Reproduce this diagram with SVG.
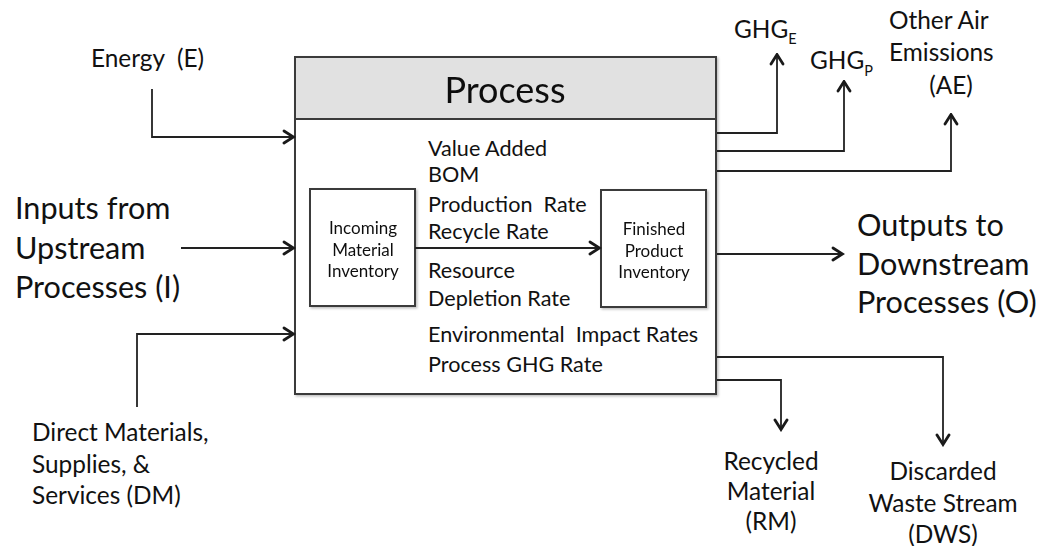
<svg xmlns="http://www.w3.org/2000/svg" width="1041" height="546" viewBox="0 0 1041 546">
  <defs>
    <style>
      text { font-family: Lato, "Open Sans", "Liberation Sans", sans-serif; fill: #111; white-space: pre; }
      .box { fill: #fff; stroke: #3a3a3a; stroke-width: 2; }
      .head { fill: #e1e1e1; stroke: #3a3a3a; stroke-width: 2; }
      .wire { fill: none; stroke: #222; stroke-width: 1.8; }
      .title { font-size: 36px; }
      .mid { font-size: 21.6px; }
      .inv { font-size: 17px; }
      .big { font-size: 30.6px; }
      .lab { font-size: 24.4px; }
      .sub { font-size: 14.5px; }
    </style>
    <marker id="arr" viewBox="0 0 14 16" refX="12.5" refY="8" markerWidth="14" markerHeight="16" markerUnits="userSpaceOnUse" orient="auto">
      <path d="M2.5,2 L12,8 L2.5,14" fill="none" stroke="#1a1a1a" stroke-width="2.8" stroke-linecap="round" stroke-linejoin="miter"/>
    </marker>
    <filter id="shadow" x="-5%" y="-5%" width="110%" height="110%">
      <feDropShadow dx="1.5" dy="1.5" stdDeviation="1" flood-color="#000" flood-opacity="0.25"/>
    </filter>
  </defs>

  <rect width="1041" height="546" fill="#fff"/>

  <!-- main process block -->
  <g id="process" filter="url(#shadow)">
    <rect class="box" x="295" y="57" width="421" height="337"/>
    <rect class="head" x="295" y="57" width="421" height="62"/>
    <text class="title" x="505" y="103" text-anchor="middle">Process</text>
  </g>

  <g id="process-metrics">
    <text class="mid" x="428" y="156">Value Added</text>
    <text class="mid" x="428" y="182">BOM</text>
    <text class="mid" x="428" y="212">Production  Rate</text>
    <text class="mid" x="428" y="239">Recycle Rate</text>
    <text class="mid" x="428" y="278">Resource</text>
    <text class="mid" x="428" y="306">Depletion Rate</text>
    <text class="mid" x="428" y="342">Environmental  Impact Rates</text>
    <text class="mid" x="428" y="372">Process GHG Rate</text>
  </g>

  <g id="incoming-inventory" filter="url(#shadow)">
    <rect class="box" x="310" y="189" width="105" height="117" stroke-width="1.6"/>
    <text class="inv" x="363" y="234" text-anchor="middle">Incoming</text>
    <text class="inv" x="363" y="256" text-anchor="middle">Material</text>
    <text class="inv" x="363" y="277" text-anchor="middle">Inventory</text>
  </g>

  <g id="finished-inventory" filter="url(#shadow)">
    <rect class="box" x="601" y="190" width="105" height="117" stroke-width="1.6"/>
    <text class="inv" x="654" y="235" text-anchor="middle">Finished</text>
    <text class="inv" x="654" y="257" text-anchor="middle">Product</text>
    <text class="inv" x="654" y="278" text-anchor="middle">Inventory</text>
  </g>

  <!-- flow labels -->
  <g id="energy">
    <text class="lab" x="91" y="67">Energy  (E)</text>
  </g>
  <g id="inputs">
    <text class="big" x="15" y="219">Inputs from</text>
    <text class="big" x="15" y="259">Upstream</text>
    <text class="big" x="15" y="298">Processes (I)</text>
  </g>
  <g id="direct-materials">
    <text class="lab" x="32" y="441">Direct Materials,</text>
    <text class="lab" x="32" y="473">Supplies, &amp;</text>
    <text class="lab" x="32" y="504">Services (DM)</text>
  </g>
  <g id="ghg-e">
    <text class="lab" x="734" y="38">GHG<tspan class="sub" dy="6">E</tspan></text>
  </g>
  <g id="ghg-p">
    <text class="lab" x="810" y="69">GHG<tspan class="sub" dy="7">P</tspan></text>
  </g>
  <g id="air-emissions">
    <text class="lab" x="889" y="29">Other Air</text>
    <text class="lab" x="889" y="61">Emissions</text>
    <text class="lab" x="951" y="94" text-anchor="middle">(AE)</text>
  </g>
  <g id="outputs">
    <text class="big" x="857" y="236">Outputs to</text>
    <text class="big" x="857" y="275">Downstream</text>
    <text class="big" x="857" y="313">Processes (O)</text>
  </g>
  <g id="recycled-material">
    <text class="lab" x="771" y="470" text-anchor="middle">Recycled</text>
    <text class="lab" x="771" y="500" text-anchor="middle">Material</text>
    <text class="lab" x="771" y="530" text-anchor="middle">(RM)</text>
  </g>
  <g id="waste-stream">
    <text class="lab" x="943" y="480" text-anchor="middle">Discarded</text>
    <text class="lab" x="943" y="512" text-anchor="middle">Waste Stream</text>
    <text class="lab" x="943" y="543" text-anchor="middle">(DWS)</text>
  </g>

  <!-- connectors -->
  <g id="connectors">
    <polyline class="wire" points="152,89 152,137 294,137" marker-end="url(#arr)"/>
    <line class="wire" x1="181" y1="248" x2="294" y2="248" marker-end="url(#arr)"/>
    <polyline class="wire" points="137,407 137,334 294,334" marker-end="url(#arr)"/>
    <line class="wire" x1="415" y1="248" x2="600" y2="248" marker-end="url(#arr)"/>
    <polyline class="wire" points="717,133 777,133 777,54" marker-end="url(#arr)"/>
    <polyline class="wire" points="717,151 844,151 844,81" marker-end="url(#arr)"/>
    <polyline class="wire" points="717,171 951,171 951,114" marker-end="url(#arr)"/>
    <line class="wire" x1="717" y1="254" x2="843" y2="254" marker-end="url(#arr)"/>
    <polyline class="wire" points="717,357 943,357 943,445" marker-end="url(#arr)"/>
    <polyline class="wire" points="717,380 781,380 781,430" marker-end="url(#arr)"/>
  </g>
</svg>
